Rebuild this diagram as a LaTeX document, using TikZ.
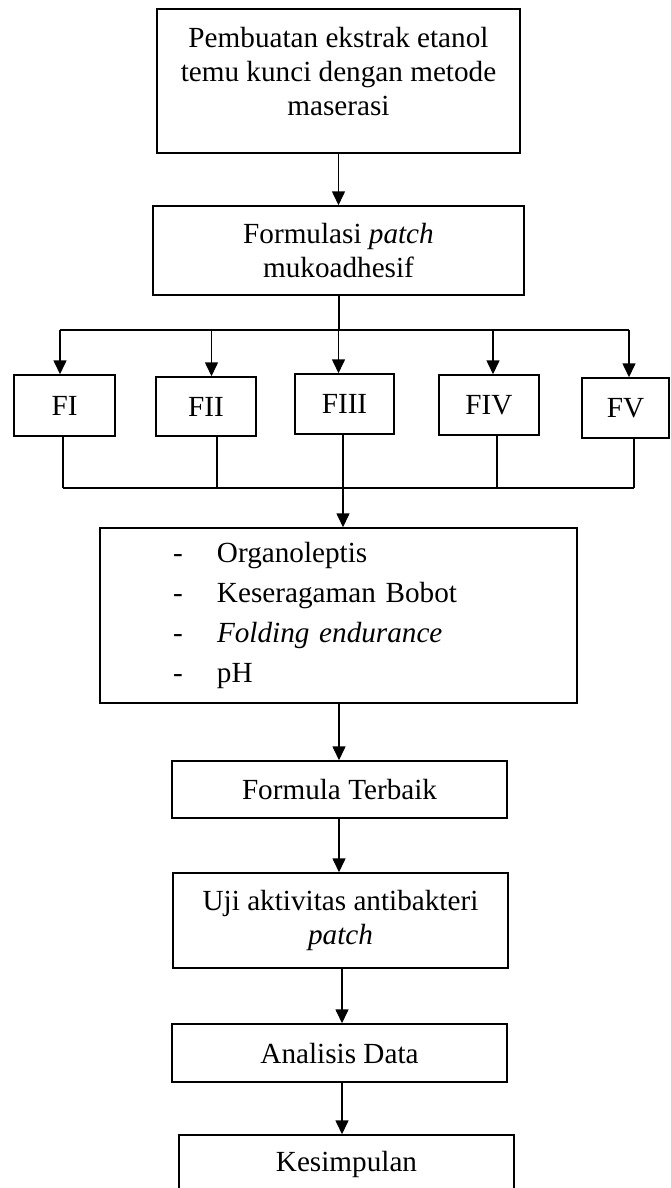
\documentclass[tikz,border=0pt]{standalone}
\usepackage{fontspec}
\setmainfont{Liberation Serif}
\usetikzlibrary{arrows.meta}
\begin{document}
\begin{tikzpicture}[x=0.5pt,y=-0.5pt,
  font=\fontsize{14.6pt}{17pt}\selectfont,
  box/.style={draw, line width=0.75pt, align=center, inner sep=0pt},
  arr/.style={line width=0.8pt, -{Triangle[length=7pt,width=6.5pt]}},
  bus/.style={line width=1pt},
  thinline/.style={line width=0.55pt}]
\useasboundingbox (0,0) rectangle (670,1188);
\fill[white] (0,0) rectangle (670,1188);
% main boxes
\node[box, minimum width=181.5pt, minimum height=72pt] (b1) at (338.5,81)
  {Pembuatan ekstrak etanol\\temu kunci dengan metode\\maserasi\\[-7pt]~};
\node[box, minimum width=185.5pt, minimum height=44.5pt] (b2) at (338.5,250.5)
  {Formulasi \textit{patch}\\mukoadhesif};
% formula boxes
\node[box, minimum width=50.5pt, minimum height=30.5pt] (f1) at (64.5,405.5) {FI};
\node[box, minimum width=50pt, minimum height=29.5pt] (f2) at (206,406.5) {FII};
\node[box, minimum width=49.5pt, minimum height=30pt] (f3) at (344.5,404) {FIII};
\node[box, minimum width=50pt, minimum height=30pt] (f4) at (489,405) {FIV};
\node[box, minimum width=43.5pt, minimum height=30pt] (f5) at (625.5,408) {FV};
% test box
\node[box, align=left, minimum width=238.5pt, minimum height=87.5pt,
      inner xsep=36.5pt, text width=165.5pt,
      font=\fontsize{14.6pt}{20pt}\selectfont] (b3) at (338.5,615.5)
  {\makebox[22pt][l]{-}Organoleptis\\
   \makebox[22pt][l]{-}Keseragaman Bobot\\
   \makebox[22pt][l]{-}\textit{Folding endurance}\\
   \makebox[22pt][l]{-}pH};
\node[box, minimum width=167.5pt, minimum height=28.5pt] (b4) at (339.5,789.5) {Formula Terbaik};
\node[box, minimum width=167.5pt, minimum height=47.5pt] (b5) at (340.5,920.5)
  {Uji aktivitas antibakteri\\\textit{patch}};
\node[box, minimum width=167.5pt, minimum height=29pt] (b6) at (339.5,1053) {Analisis Data};
\node[box, minimum width=167.5pt, minimum height=29pt] (b7) at (346.5,1164) {Kesimpulan};
% upper bus
\coordinate (t1) at (60,330);
\coordinate (t2) at (211.5,330);
\coordinate (t3) at (338.5,330);
\coordinate (t4) at (493,330);
\coordinate (t5) at (629,330);
\draw[arr] (b1.south) -- (b2.north);
\draw[bus] (b2.south) -- (t3);
\draw[bus] (t1) -- (t5);
\draw[arr] (t1) -- (t1 |- f1.north);
\draw[arr] (t2) -- (t2 |- f2.north);
\draw[arr] (t3) -- (t3 |- f3.north);
\draw[arr] (t4) -- (t4 |- f4.north);
\draw[arr] (t5) -- (t5 |- f5.north);
% lower bus
\coordinate (d1) at (63,488);
\coordinate (d2) at (217,488);
\coordinate (d3) at (343,488);
\coordinate (d4) at (497,488);
\coordinate (d5) at (634,488);
\draw[thinline] (d1 |- f1.south) -- (d1);
\draw[thinline] (d2 |- f2.south) -- (d2);
\draw[bus] (d3 |- f3.south) -- (d3);
\draw[thinline] (d4 |- f4.south) -- (d4);
\draw[thinline] (d5 |- f5.south) -- (d5);
\draw[bus] (d1) -- (d5);
\draw[arr] (d3) -- (d3 |- b3.north);
% lower chain
\draw[arr] (b3.south -| 339,0) -- (b4.north -| 339,0);
\draw[arr] (b4.south -| 339,0) -- (b5.north -| 339,0);
\draw[arr] (b5.south -| 342,0) -- (b6.north -| 342,0);
\draw[arr] (b6.south -| 342,0) -- (b7.north -| 342,0);
\end{tikzpicture}
\end{document}
